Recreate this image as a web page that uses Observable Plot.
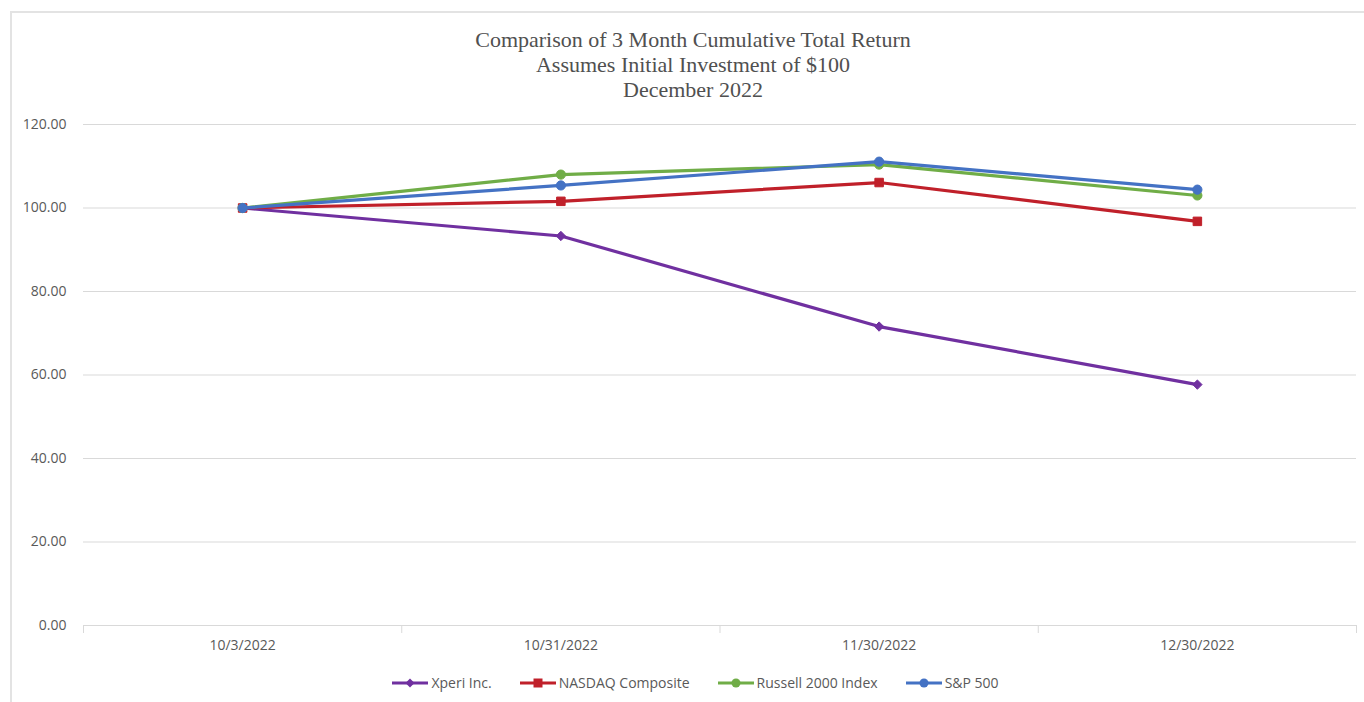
<!DOCTYPE html>
<html>
<head>
<meta charset="utf-8">
<script src="https://cdn.jsdelivr.net/npm/d3@7"></script>
<script src="https://cdn.jsdelivr.net/npm/@observablehq/plot@0.6"></script>
<style>
  html, body { margin: 0; padding: 0; background: #fff; }
  #wrap { position: relative; width: 1364px; height: 702px; overflow: hidden; background: #fff; }
  #frame { position: absolute; left: 10px; top: 11px; right: -10px; bottom: -10px;
           border-top: 2px solid #e3e3e3; border-left: 2px solid #e3e3e3; }
  #title { position: absolute; left: 93px; width: 1200px; top: 27px; text-align: center;
           font-family: "Liberation Serif", "DejaVu Serif", serif; font-size: 22px; line-height: 25px; color: #505050; }
  #chart { position: absolute; left: 0; top: 100px; }
  #legend { position: absolute; left: 0; width: 1391px; top: 674px; display: flex; justify-content: center;
            gap: 28px; font-family: "Open Sans", sans-serif; font-size: 14px; color: #595959; }
  #legend .item { display: flex; align-items: center; gap: 3px; line-height: 18px; }
</style>
</head>
<body>
<div id="wrap">
  <div id="frame"></div>
  <div id="title">Comparison of 3 Month Cumulative Total Return<br>Assumes Initial Investment of $100<br>December 2022</div>
  <div id="chart"></div>
  <div id="legend"></div>
</div>
<script>
const dates = ["10/3/2022", "10/31/2022", "11/30/2022", "12/30/2022"];
const seriesNames = ["Xperi Inc.", "NASDAQ Composite", "Russell 2000 Index", "S&P 500"];
const xperi = [100, 93.3, 71.6, 57.7];
const nasdaq = [100, 101.6, 106.1, 96.8];
const russell = [100, 108.0, 110.4, 103.0];
const sp500 = [100, 105.4, 111.1, 104.4];
const yTicks = [0, 20, 40, 60, 80, 100, 120];
const seriesColors = ["#7030A0", "#C0202A", "#70AD47", "#4472C4"];
const seriesSymbols = ["diamond2", "square", "circle", "circle"];
const seriesR = [4.2, 4.8, 4.6, 4.6];

const seriesValues = [xperi, nasdaq, russell, sp500];
const rows = [];
seriesNames.forEach((name, s) => {
  seriesValues[s].forEach((v, i) => rows.push({series: name, s, i, date: dates[i], value: v}));
});
const idx = dates.map((d, i) => i);
const bounds = [-0.5, ...idx.map(i => i + 0.5)];

const marks = [
  Plot.gridY(yTicks, {stroke: "#d9d9d9", strokeOpacity: 1, strokeWidth: 1}),
  Plot.axisY(yTicks, {tickSize: 0, tickPadding: 17, tickFormat: d3.format(".2f"), label: null}),
  Plot.axisX(bounds, {tickSize: 8, tickFormat: () => "", stroke: "#d9d9d9", label: null}),
  Plot.axisX(idx, {tickSize: 0, tickPadding: 15, tickFormat: i => dates[i], label: null})
];
seriesNames.forEach((name, s) => {
  const data = rows.filter(r => r.s === s);
  marks.push(Plot.line(data, {x: "i", y: "value", stroke: seriesColors[s], strokeWidth: 3.2}));
  marks.push(Plot.dot(data, {x: "i", y: "value", fill: seriesColors[s], stroke: seriesColors[s], strokeWidth: 1,
                             symbol: () => seriesSymbols[s], r: seriesR[s]}));
});

const chart = Plot.plot({
  width: 1364, height: 560,
  marginLeft: 83, marginRight: 8, marginTop: 24, marginBottom: 35,
  x: {type: "linear", domain: [-0.5, 3.5]},
  y: {domain: [0, 120]},
  style: {fontFamily: "'Open Sans', sans-serif", fontSize: "14px", color: "#595959", background: "transparent"},
  marks
});
document.getElementById("chart").appendChild(chart);

// legend
const legend = document.getElementById("legend");
const symbolPaths = {
  diamond2: "M18,1.5 L22.5,6 L18,10.5 L13.5,6 Z",
  square: "M13.5,1.5 H22.5 V10.5 H13.5 Z"
};
seriesNames.forEach((name, s) => {
  const item = document.createElement("div");
  item.className = "item";
  const sym = seriesSymbols[s];
  const markerSvg = sym === "circle"
    ? `<circle cx="18" cy="6" r="4.5" fill="${seriesColors[s]}"/>`
    : `<path d="${symbolPaths[sym]}" fill="${seriesColors[s]}"/>`;
  item.innerHTML = `<svg width="36" height="12"><line x1="0" x2="36" y1="6" y2="6" stroke="${seriesColors[s]}" stroke-width="3"/>${markerSvg}</svg><span>${name.replace("&", "&amp;")}</span>`;
  legend.appendChild(item);
});
</script>
</body>
</html>
